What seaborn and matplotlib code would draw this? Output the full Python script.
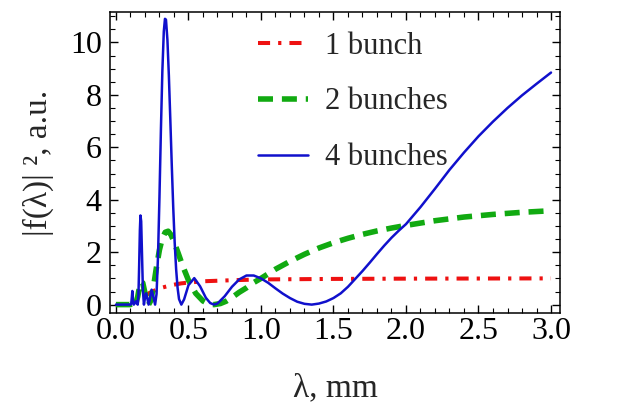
import matplotlib
matplotlib.use("Agg")
import matplotlib.pyplot as plt
import seaborn as sns
from matplotlib.ticker import MultipleLocator

# ========================
# Data
# ========================
series_names = ["1 bunch", "2 bunches", "4 bunches"]

lam_one = [0.00, 0.08, 0.10, 0.12, 0.14, 0.16, 0.18, 0.20, 0.23, 0.26, 0.30, 0.34,
           0.40, 0.45, 0.50, 0.60, 0.70, 0.80, 1.00, 1.50, 2.00, 3.00]
f_one = [0.00, 0.00, 0.01, 0.05, 0.11, 0.18, 0.26, 0.34, 0.44, 0.52, 0.62, 0.68,
         0.76, 0.81, 0.84, 0.89, 0.91, 0.93, 0.96, 0.98, 0.99, 1.00]

lam_two = [0.00, 0.10, 0.12, 0.135, 0.15, 0.169, 0.185, 0.20, 0.215, 0.225, 0.24, 0.26,
           0.28, 0.30, 0.32, 0.34, 0.36, 0.38, 0.40, 0.43, 0.46, 0.50, 0.55, 0.60,
           0.64, 0.676, 0.72, 0.76, 0.80, 0.85, 0.90, 0.95, 1.00, 1.10, 1.20, 1.30,
           1.40, 1.50, 1.60, 1.70, 1.80, 1.90, 2.00, 2.20, 2.40, 2.60, 2.80, 3.00]
f_two = [0.00, 0.00, 0.13, 0.00, 0.30, 0.87, 0.83, 0.45, 0.10, 0.00, 0.15, 0.72,
         1.45, 2.09, 2.53, 2.76, 2.80, 2.66, 2.40, 1.95, 1.48, 0.93, 0.43, 0.14,
         0.02, 0.00, 0.04, 0.13, 0.27, 0.47, 0.64, 0.84, 1.00, 1.35, 1.65, 1.92,
         2.16, 2.36, 2.53, 2.68, 2.81, 2.92, 3.02, 3.20, 3.34, 3.44, 3.52, 3.58]

lam_four = [0.00, 0.10, 0.105, 0.110, 0.113, 0.116, 0.120, 0.123, 0.130, 0.140, 0.150,
            0.155, 0.160, 0.165, 0.169, 0.174, 0.180, 0.186, 0.193, 0.200, 0.208,
            0.216, 0.225, 0.235, 0.246, 0.258, 0.270, 0.280, 0.290, 0.300, 0.310,
            0.320, 0.330, 0.338, 0.345, 0.355, 0.365, 0.375, 0.385, 0.395, 0.405,
            0.415, 0.425, 0.435, 0.451, 0.470, 0.500, 0.540, 0.580, 0.620, 0.650,
            0.676, 0.700, 0.750, 0.800, 0.850, 0.900, 0.950, 1.000, 1.050, 1.100,
            1.150, 1.200, 1.250, 1.300, 1.350, 1.400, 1.450, 1.500, 1.550, 1.600,
            1.650, 1.700, 1.750, 1.800, 1.850, 1.900, 1.950, 2.000, 2.100, 2.200,
            2.300, 2.400, 2.500, 2.600, 2.700, 2.800, 2.900, 3.000]
f_four = [0.00, 0.00, 0.02, 0.30, 0.52, 0.30, 0.05, 0.00, 0.05, 0.13, 0.00,
          0.33, 1.48, 2.84, 3.40, 3.18, 1.85, 0.53, 0.00, 0.25, 0.43,
          0.25, 0.00, 0.25, 0.57, 0.30, 0.00, 0.41, 1.84, 4.09, 6.65,
          8.90, 10.42, 10.90, 10.87, 10.09, 8.72, 7.04, 5.31, 3.71, 2.37,
          1.35, 0.64, 0.21, 0.00, 0.20, 0.74, 1.01, 0.70, 0.26, 0.06,
          0.00, 0.04, 0.32, 0.68, 0.96, 1.11, 1.11, 1.00, 0.83, 0.62,
          0.42, 0.25, 0.11, 0.03, 0.00, 0.04, 0.12, 0.25, 0.43, 0.68,
          0.98, 1.28, 1.60, 1.93, 2.25, 2.55, 2.82, 3.07, 3.72, 4.42,
          5.14, 5.80, 6.42, 6.98, 7.50, 7.98, 8.42, 8.85]

x_ticks = [0.0, 0.5, 1.0, 1.5, 2.0, 2.5, 3.0]
y_ticks = [0, 2, 4, 6, 8, 10]

# ========================
# Style
# ========================
sns.set_theme(style="ticks")
plt.rcParams["font.family"] = ["Liberation Serif", "DejaVu Serif"]
plt.rcParams["axes.edgecolor"] = "black"
plt.rcParams["xtick.color"] = "black"
plt.rcParams["ytick.color"] = "black"

fig = plt.figure(figsize=(6.27, 4.12), dpi=100)
ax = fig.add_axes([110 / 627, 1 - 313 / 412, 450 / 627, 301 / 412])

# ========================
# Curves
# ========================
sns.lineplot(x=lam_one, y=f_one, ax=ax, color="#ee1111", linewidth=2.9,
             linestyle=(0, (3, 2, 0.8, 2)), label=series_names[0], sort=False)
sns.lineplot(x=lam_two, y=f_two, ax=ax, color="#11aa11", linewidth=4.0,
             linestyle=(0, (2.7, 1.6)), label=series_names[1], sort=False)
sns.lineplot(x=lam_four, y=f_four, ax=ax, color="#1010cc", linewidth=1.8,
             linestyle="-", label=series_names[2], sort=False)

# ========================
# Axes, ticks, labels
# ========================
ax.set_xlim(-0.041, 3.062)
ax.set_ylim(-0.32, 11.16)
ax.set_xticks(x_ticks)
ax.set_xticklabels([f"{t:.1f}" for t in x_ticks])
ax.set_yticks(y_ticks)
ax.xaxis.set_minor_locator(MultipleLocator(0.1))
ax.yaxis.set_minor_locator(MultipleLocator(0.5))
ax.tick_params(which="both", direction="in", top=True, right=True, labelsize=23)
ax.tick_params(which="major", length=6, width=1.0)
ax.tick_params(which="minor", length=3.5, width=0.8)
ax.tick_params(axis="x", pad=3)
ax.tick_params(axis="y", pad=6)
for s in ax.spines.values():
    s.set_linewidth(1.1)
    s.set_color("black")

ax.set_xlabel("λ, mm", fontsize=24)
ax.set_ylabel("|f(λ)| ², a.u.", fontsize=24)
ax.xaxis.set_label_coords(0.5, -0.2)
ax.yaxis.set_label_coords(-0.125, 0.5)

ax.legend(loc="upper left", bbox_to_anchor=(0.329, 0.935), frameon=False,
          fontsize=22, handlelength=1.65, handletextpad=0.55, labelspacing=0.88,
          borderpad=0, borderaxespad=0)

fig.savefig("out.png", dpi=100)
plt.close(fig)
